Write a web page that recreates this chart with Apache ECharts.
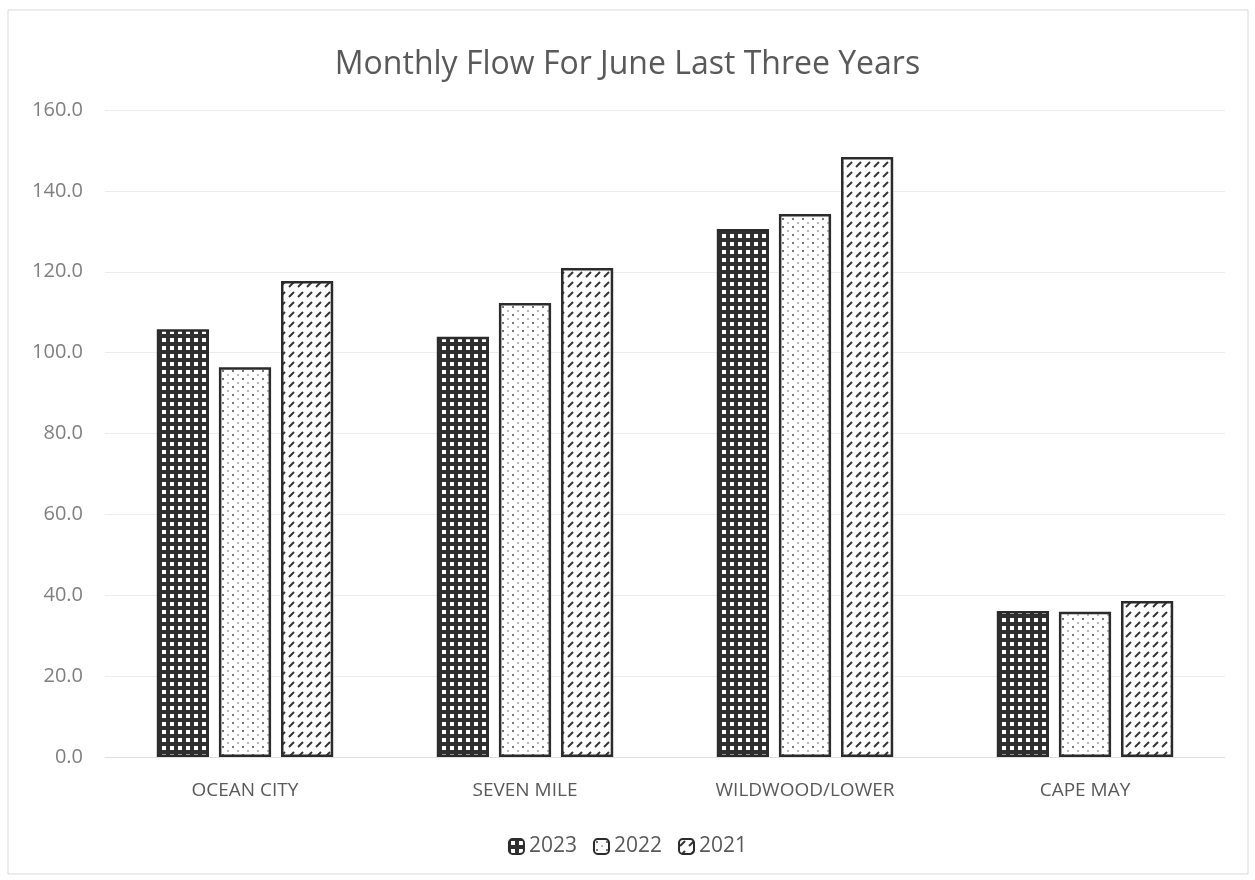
<!DOCTYPE html>
<html>
<head>
<meta charset="utf-8">
<script src="https://cdn.jsdelivr.net/npm/echarts@6/dist/echarts.min.js"></script>
<style>
    html, body { margin: 0; padding: 0; background: #fff; }
    #chart { width: 1255px; height: 880px; }
</style>
</head>
<body>
<div id="chart"></div>
<script>
const categories = ["OCEAN CITY", "SEVEN MILE", "WILDWOOD/LOWER", "CAPE MAY"];
const years = ["2023", "2022", "2021"];
const flow2023 = [105.8, 103.9, 130.6, 36.1];
const flow2022 = [96.4, 112.3, 134.3, 35.9];
const flow2021 = [117.7, 120.9, 148.4, 38.6];

// small canvas tiles used as bar fills
function tile(w, h, draw) {
    let c = document.createElement("canvas");
    c.width = w;
    c.height = h;
    draw(c.getContext("2d"));
    return c;
}

let gridPat = tile(8, 8, ctx => {
    ctx.fillStyle = "#2f2f2f";
    ctx.fillRect(0, 0, 8, 8);
    ctx.fillStyle = "#fff";
    ctx.fillRect(2, 2, 4, 4);
});

let dotPat = tile(10, 8, ctx => {
    ctx.fillStyle = "#fff";
    ctx.fillRect(0, 0, 10, 8);
    ctx.fillStyle = "#777";
    ctx.fillRect(2, 2, 2, 2);
    ctx.fillStyle = "#bbb";
    ctx.fillRect(7, 6, 2, 2);
});

let dashPat = tile(9, 10, ctx => {
    ctx.fillStyle = "#fff";
    ctx.fillRect(0, 0, 9, 10);
    ctx.strokeStyle = "#333";
    ctx.lineWidth = 2;
    ctx.beginPath();
    ctx.moveTo(1, 7);
    ctx.lineTo(6, 2);
    ctx.stroke();
});

let patterns = [gridPat, dotPat, dashPat];
let values = [flow2023, flow2022, flow2021];

let chart = echarts.init(document.getElementById("chart"));

let options = {
    backgroundColor: "#fff",
    title: {
        text: "Monthly Flow For June Last Three Years",
        left: "center",
        top: 44,
        textStyle: {
            fontFamily: "Open Sans",
            fontSize: 32,
            fontWeight: "normal",
            color: "#595959",
        },
    },
    legend: {
        bottom: 18,
        left: "center",
        itemWidth: 15,
        itemHeight: 15,
        itemGap: 16,
        textStyle: {
            fontFamily: "Open Sans",
            fontSize: 21,
            color: "#595959",
        },
        data: years,
    },
    grid: {
        left: 105,
        right: 30,
        top: 110,
        bottom: 123,
    },
    xAxis: {
        type: "category",
        data: categories,
        axisLine: { show: true, lineStyle: { color: "#e0e0e0" } },
        axisTick: { show: false },
        axisLabel: {
            fontFamily: "Open Sans",
            fontSize: 19,
            color: "#595959",
            margin: 24,
        },
    },
    yAxis: {
        type: "value",
        min: 0,
        max: 160,
        interval: 20,
        axisLine: { show: false },
        axisTick: { show: false },
        splitLine: { lineStyle: { color: "#ececec" } },
        axisLabel: {
            fontFamily: "Open Sans",
            fontSize: 20,
            color: "#7f7f7f",
            margin: 22,
            formatter: v => v.toFixed(1),
        },
    },
    series: years.map((y, i) => ({
        name: y,
        type: "bar",
        data: values[i],
        barGap: "19%",
        barCategoryGap: "37%",
        itemStyle: {
            color: { image: patterns[i], repeat: "repeat" },
            borderColor: "#2b2b2b",
            borderWidth: 2.5,
        },
    })),
    graphic: [
        {
            type: "rect",
            shape: { x: 8, y: 10, width: 1240, height: 864 },
            style: { fill: "none", stroke: "#d9d9d9", lineWidth: 1 },
            silent: true,
        },
    ],
};

chart.setOption(options);
</script>
</body>
</html>
